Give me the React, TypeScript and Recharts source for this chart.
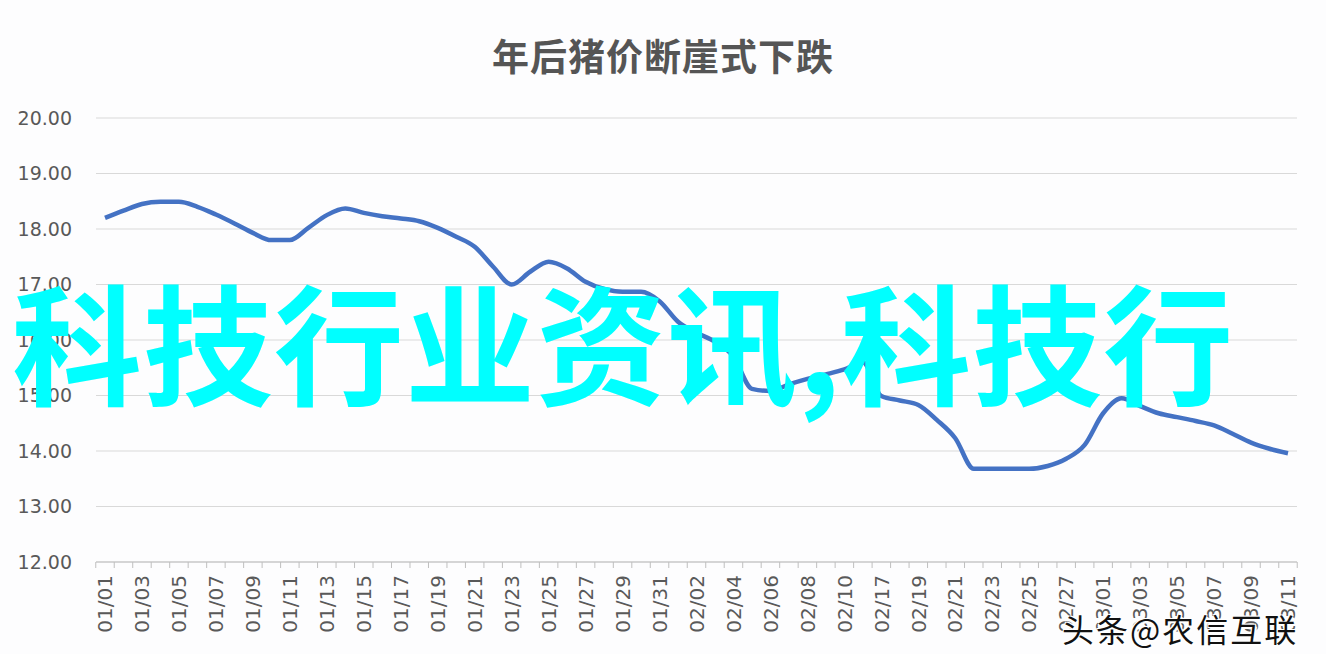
import { LineChart, Line, XAxis, YAxis, CartesianGrid } from "recharts";

const dates = [
  "01/01", "01/02", "01/03", "01/04", "01/05", "01/06", "01/07", "01/08", "01/09", "01/10",
  "01/11", "01/12", "01/13", "01/14", "01/15", "01/16", "01/17", "01/18", "01/19", "01/20",
  "01/21", "01/22", "01/23", "01/24", "01/25", "01/26", "01/27", "01/28", "01/29", "01/30",
  "01/31", "02/01", "02/02", "02/03", "02/04", "02/05", "02/06", "02/07", "02/08", "02/09",
  "02/10", "02/16", "02/17", "02/18", "02/19", "02/20", "02/21", "02/22", "02/23", "02/24",
  "02/25", "02/26", "02/27", "02/28", "03/01", "03/02", "03/03", "03/04", "03/05", "03/06",
  "03/07", "03/08", "03/09", "03/10", "03/11",
];

const prices = [
  18.2, 18.33, 18.45, 18.49, 18.49, 18.4, 18.26, 18.1, 17.93, 17.8,
  17.8, 18.02, 18.25, 18.37, 18.29, 18.23, 18.19, 18.14, 18.02, 17.86,
  17.68, 17.32, 17.0, 17.23, 17.41, 17.29, 17.05, 16.92, 16.87, 16.87,
  16.7, 16.33, 16.13, 15.97, 15.7, 15.12, 15.08, 15.2, 15.3, 15.38,
  15.47, 15.6, 14.99, 14.91, 14.83, 14.56, 14.23, 13.68, 13.68, 13.68,
  13.68, 13.73, 13.86, 14.11, 14.68, 14.95, 14.81, 14.68, 14.61, 14.54,
  14.46, 14.31, 14.15, 14.04, 13.96,
];

const yTicks = [12, 13, 14, 15, 16, 17, 18, 19, 20];

const data = dates.map((d, i) => ({ date: d, price: prices[i] }));

const STEP = (1201 - 18) / (dates.length - 1);

function DateTick(props: any) {
  const { x, y, payload, index } = props;
  const i = payload?.index ?? index;
  return (
    <g>
      <line x1={x - STEP / 2} x2={x - STEP / 2} y1={y} y2={y + 6} stroke="#bfbfbf" />
      {i === dates.length - 1 && (
        <line x1={x + STEP / 2} x2={x + STEP / 2} y1={y} y2={y + 6} stroke="#bfbfbf" />
      )}
      {i % 2 === 0 && (
        <text
          x={x}
          y={y + 13}
          dy="0.36em"
          textAnchor="end"
          transform={`rotate(-90, ${x}, ${y + 13})`}
          fill="#595959"
          fontSize={20}
          fontFamily="DejaVu Sans"
        >
          {payload.value}
        </text>
      )}
    </g>
  );
}

export default function App() {
  return (
    <div
      style={{
        position: "absolute",
        left: 0,
        top: 0,
        width: 1326,
        height: 654,
        background: "#fdfdfe",
        overflow: "hidden",
      }}
    >
      <div
        style={{
          position: "absolute",
          left: 0,
          top: 28,
          width: 1326,
          textAlign: "center",
          fontFamily: "'Noto Sans CJK SC'",
          fontWeight: 700,
          fontSize: 37,
          letterSpacing: 1,
          color: "#555555",
          lineHeight: "54px",
        }}
      >
        年后猪价断崖式下跌
      </div>
      <LineChart
        width={1326}
        height={654}
        data={data}
        margin={{ top: 118, right: 29, bottom: 0, left: 0 }}
      >
        <CartesianGrid vertical={false} stroke="#d9d9d9" />
        <XAxis
          dataKey="date"
          interval={0}
          height={92}
          tickSize={0}
          tickMargin={0}
          tickLine={false}
          padding={{ left: 9, right: 9 }}
          axisLine={{ stroke: "#bfbfbf" }}
          tick={<DateTick />}
        />
        <YAxis
          domain={[12, 20]}
          ticks={yTicks}
          width={96}
          tickSize={0}
          tickMargin={24}
          axisLine={false}
          tickLine={false}
          tickFormatter={(v: number) => v.toFixed(2)}
          tick={{ fill: "#595959", fontSize: 19, fontFamily: "DejaVu Sans" }}
        />
        <Line
          type="monotone"
          dataKey="price"
          stroke="#4472c4"
          strokeWidth={4.5}
          dot={false}
          isAnimationActive={false}
        />
      </LineChart>
      <div
        style={{
          position: "absolute",
          left: 12,
          top: 258,
          fontFamily: "'Noto Sans CJK SC'",
          fontWeight: 700,
          fontSize: 130,
          letterSpacing: 1,
          lineHeight: "160px",
          color: "#00ffff",
          whiteSpace: "nowrap",
        }}
      >
        科技行业资讯,科技行
      </div>
      <div
        style={{
          position: "absolute",
          left: 1062,
          top: 608,
          fontFamily: "'Noto Sans CJK SC'",
          fontSize: 32,
          letterSpacing: 2,
          lineHeight: "40px",
          color: "#111",
          whiteSpace: "nowrap",
          textShadow: "2px 2px 0 #fff, -1px -1px 0 #fff, 1px -1px 0 #fff, -1px 1px 0 #fff",
        }}
      >
        头条@农信互联
      </div>
    </div>
  );
}
